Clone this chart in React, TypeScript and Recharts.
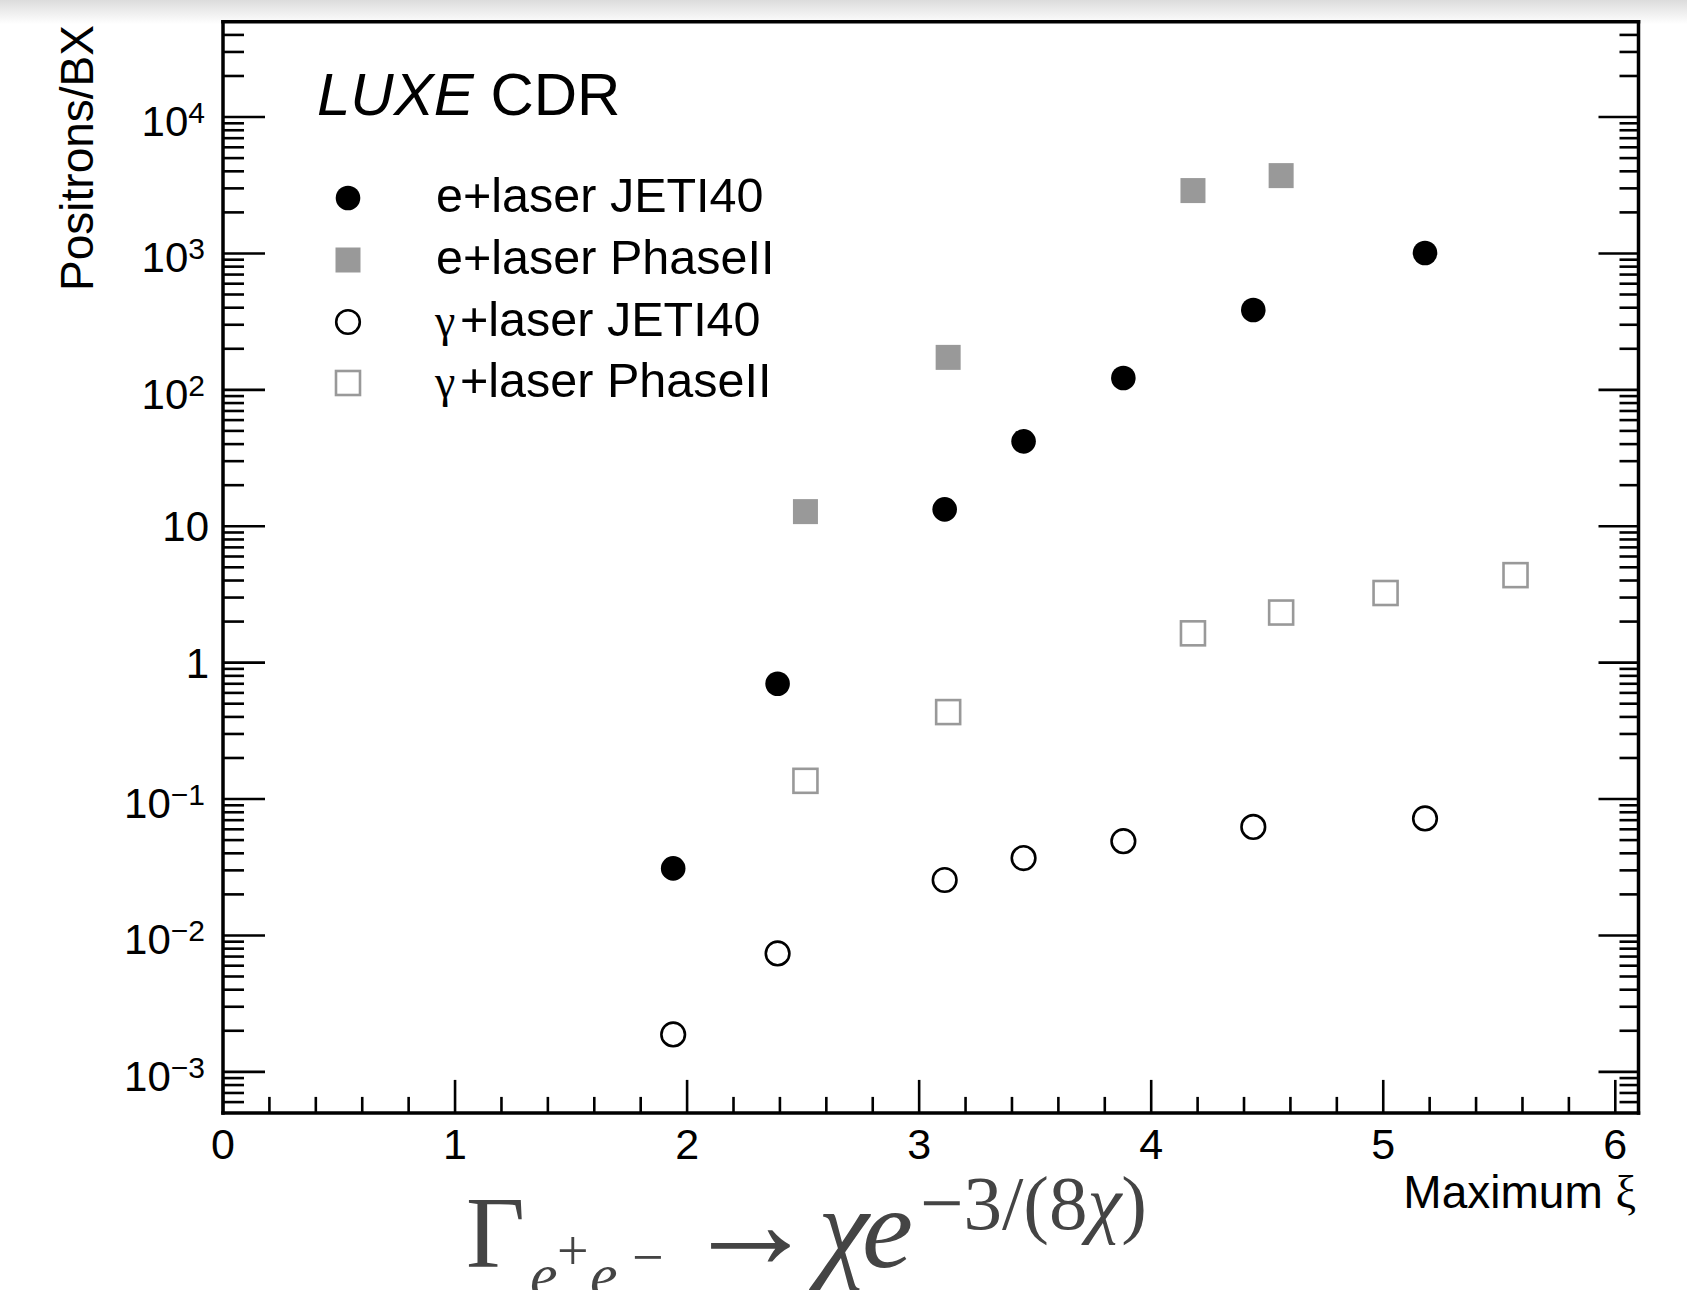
import React from 'react';
import { ScatterChart, Scatter, XAxis, YAxis, Legend } from 'recharts';

// series (x = maximum xi, y = positrons per bunch crossing)
const seriesNames = ['e+laser JETI40', 'e+laser PhaseII', 'γ+laser JETI40', 'γ+laser PhaseII'];

const jetiXi = [1.94, 2.39, 3.11, 3.45, 3.88, 4.44, 5.18];
const eJetiN = [0.031, 0.7, 13.3, 41.9, 122, 385, 1007];
const gJetiN = [0.00188, 0.00738, 0.0255, 0.0369, 0.0491, 0.0625, 0.0721];

const ePhaseXi = [2.51, 3.125, 4.18, 4.56];
const ePhaseN = [12.8, 173, 2890, 3720];

const gPhaseXi = [2.51, 3.125, 4.18, 4.56, 5.01, 5.57];
const gPhaseN = [0.136, 0.434, 1.64, 2.33, 3.24, 4.38];

const xMajorTicks = [0, 1, 2, 3, 4, 5, 6];
const yDecades = [-3, -2, -1, 0, 1, 2, 3, 4];

const FONT = '"Liberation Sans", Arial, Helvetica, sans-serif';
const SERIF = '"Liberation Serif", "Times New Roman", serif';
const GREY = '#999999';

const toRows = (xs: number[], ys: number[]) => xs.map((xi, i) => ({ xi, n: ys[i] }));

const eJeti = toRows(jetiXi, eJetiN);
const ePhase = toRows(ePhaseXi, ePhaseN);
const gJeti = toRows(jetiXi, gJetiN);
const gPhase = toRows(gPhaseXi, gPhaseN);

// minor ticks every 0.2 on x, 2..9 per decade on y
const xTicks: number[] = [];
for (let i = 0; i <= 30; i++) xTicks.push(Math.round(i * 2) / 10);

const yTicks: number[] = [6e-4, 7e-4, 8e-4, 9e-4];
yDecades.forEach((d) => {
  const base = Math.pow(10, d);
  yTicks.push(base);
  if (d < 4) for (let k = 2; k <= 9; k++) yTicks.push(k * base);
});
yTicks.push(2e4, 3e4, 4e4);

const isMajorX = (v: number) => xMajorTicks.some((m) => Math.abs(m - v) < 1e-6);
const isMajorY = (v: number) => {
  const l = Math.log10(v);
  return Math.abs(l - Math.round(l)) < 1e-6;
};

const BottomTick = (props: any) => {
  const { x, y, payload } = props;
  const major = isMajorX(payload.value);
  return (
    <g>
      <line x1={x} x2={x} y1={y} y2={y - (major ? 33 : 16)} stroke="#000" strokeWidth={2.6} />
      {major && (
        <text x={x} y={y + 46} textAnchor="middle" fontSize={43} fontFamily={FONT} fill="#000">
          {Math.round(payload.value)}
        </text>
      )}
    </g>
  );
};

const TopTick = (props: any) => {
  const { x, y, payload } = props;
  const major = isMajorX(payload.value);
  return <line x1={x} x2={x} y1={y} y2={y + (major ? 33 : 16)} stroke="#000" strokeWidth={2.6} />;
};

const LeftTick = (props: any) => {
  const { x, y, payload } = props;
  const v = payload.value;
  const major = isMajorY(v);
  const e = Math.round(Math.log10(v));
  const plain = e === 0 || e === 1;
  return (
    <g>
      <line x1={x} x2={x + (major ? 42 : 21)} y1={y} y2={y} stroke="#000" strokeWidth={2.6} />
      {major && (
        <text
          x={x - (plain ? 14 : 18)}
          y={y + (plain ? 15 : 19)}
          textAnchor="end"
          fontSize={42}
          fontFamily={FONT}
          fill="#000"
        >
          {e === 0 ? '1' : '10'}
          {!plain && (
            <tspan dy={-13} fontSize={30}>
              {e < 0 ? '\u2212' + -e : String(e)}
            </tspan>
          )}
        </text>
      )}
    </g>
  );
};

const RightTick = (props: any) => {
  const { x, y, payload } = props;
  const major = isMajorY(payload.value);
  return <line x1={x} x2={x - (major ? 40 : 19)} y1={y} y2={y} stroke="#000" strokeWidth={2.6} />;
};

const FilledCircle = (p: any) => <circle cx={p.cx} cy={p.cy} r={12.3} fill="#000" />;
const FilledSquare = (p: any) => (
  <rect x={p.cx - 12.5} y={p.cy - 12.5} width={25} height={25} fill={GREY} />
);
const OpenCircle = (p: any) => (
  <circle cx={p.cx} cy={p.cy} r={11.8} fill="none" stroke="#000" strokeWidth={2.6} />
);
const OpenSquare = (p: any) => (
  <rect x={p.cx - 12} y={p.cy - 12} width={24} height={24} fill="none" stroke={GREY} strokeWidth={2.6} />
);

const legendMarkers = [FilledCircle, FilledSquare, OpenCircle, OpenSquare];
const legendRows = [198, 260, 322, 383];

const LegendBox = (props: any) => {
  const items = props.payload && props.payload.length ? props.payload : seriesNames.map((v) => ({ value: v }));
  return (
    <svg width={800} height={420} style={{ display: 'block', overflow: 'visible' }}>
      {items.map((it: any, i: number) => {
        const Marker = legendMarkers[i];
        const y = legendRows[i];
        const name: string = it.value;
        const isGamma = name.startsWith('γ');
        return (
          <g key={name}>
            <Marker cx={348} cy={y} />
            {isGamma ? (
              <text y={y + 14} fontSize={48.5} fontFamily={FONT} fill="#000">
                <tspan x={435} fontFamily={SERIF} fontSize={46}>
                  γ
                </tspan>
                <tspan x={460}>{name.slice(1)}</tspan>
              </text>
            ) : (
              <text x={436} y={y + 14} fontSize={48.5} fontFamily={FONT} fill="#000">
                {name}
              </text>
            )}
          </g>
        );
      })}
    </svg>
  );
};

const YTitle = () => (
  <text
    x={93}
    y={25}
    transform="rotate(-90, 93, 25)"
    textAnchor="end"
    fontSize={46}
    fontFamily={FONT}
    fill="#000"
  >
    Positrons/BX
  </text>
);

const XTitle = () => (
  <text x={1636} y={1208} textAnchor="end" fontSize={46} fontFamily={FONT} fill="#000">
    Maximum <tspan fontFamily={SERIF}>ξ</tspan>
  </text>
);

const Formula = () => (
  <svg
    width={1687}
    height={1290}
    style={{ position: 'absolute', left: 0, top: 0, pointerEvents: 'none' }}
  >
    <text x={317} y={115} fontSize={60} fontFamily={FONT} fill="#000">
      <tspan fontStyle="italic">LUXE</tspan> CDR
    </text>
    <g fill="#444" fontFamily={SERIF}>
      <text x={466} y={1267} fontSize={102}>Γ</text>
      <text x={530} y={1296} fontSize={62} fontStyle="italic">e</text>
      <text x={557} y={1270} fontSize={56}>+</text>
      <text x={590} y={1296} fontSize={62} fontStyle="italic">e</text>
      <text x={632} y={1276} fontSize={56}>{'\u2212'}</text>
      <text x={684} y={1268} fontSize={133}>{'\u2192'}</text>
      <text x={818} y={1267} fontSize={115} fontStyle="italic">χ</text>
      <text x={862} y={1267} fontSize={115} fontStyle="italic">e</text>
      <text x={920} y={1229} fontSize={77}>
        {'\u22123/(8'}
        <tspan fontStyle="italic">χ</tspan>)
      </text>
    </g>
  </svg>
);

export default function App() {
  return (
    <div
      style={{
        position: 'absolute',
        left: 0,
        top: 0,
        width: 1687,
        height: 1290,
        background: '#fff',
        overflow: 'hidden',
      }}
    >
      <div
        style={{
          position: 'absolute',
          left: 0,
          top: 0,
          width: 1687,
          height: 24,
          background: 'linear-gradient(to bottom, #dcdcdc, rgba(255,255,255,0))',
        }}
      />
      <ScatterChart
        width={1687}
        height={1290}
        margin={{ top: 20.7, right: 47.5, bottom: 176.1, left: 222 }}
      >
        <XAxis
          xAxisId="b"
          type="number"
          dataKey="xi"
          domain={[0, 6.1]}
          allowDataOverflow
          ticks={xTicks}
          interval={0}
          tickSize={0}
          tickMargin={0}
          height={1}
          tick={<BottomTick />}
          tickLine={false}
          axisLine={{ stroke: '#000', strokeWidth: 3.5, strokeLinecap: 'square' }}
          label={<XTitle />}
        />
        <XAxis
          xAxisId="t"
          orientation="top"
          type="number"
          domain={[0, 6.1]}
          allowDataOverflow
          ticks={xTicks}
          interval={0}
          tickSize={0}
          tickMargin={0}
          height={1}
          tick={<TopTick />}
          tickLine={false}
          axisLine={{ stroke: '#000', strokeWidth: 3.5, strokeLinecap: 'square' }}
        />
        <YAxis
          yAxisId="l"
          type="number"
          dataKey="n"
          scale="log"
          domain={[5e-4, 5e4]}
          allowDataOverflow
          ticks={yTicks}
          interval={0}
          tickSize={0}
          tickMargin={0}
          width={1}
          tick={<LeftTick />}
          tickLine={false}
          axisLine={{ stroke: '#000', strokeWidth: 3.5, strokeLinecap: 'square' }}
          label={<YTitle />}
        />
        <YAxis
          yAxisId="r"
          orientation="right"
          type="number"
          scale="log"
          domain={[5e-4, 5e4]}
          allowDataOverflow
          ticks={yTicks}
          interval={0}
          tickSize={0}
          tickMargin={0}
          width={1}
          tick={<RightTick />}
          tickLine={false}
          axisLine={{ stroke: '#000', strokeWidth: 3.5, strokeLinecap: 'square' }}
        />
        <Legend
          layout="vertical"
          align="center"
          verticalAlign="middle"
          content={<LegendBox />}
          wrapperStyle={{ left: 0, top: 0, width: 800, height: 420 }}
        />
        <Scatter name={seriesNames[0]} data={eJeti} xAxisId="b" yAxisId="l" shape={FilledCircle} isAnimationActive={false} />
        <Scatter name={seriesNames[1]} data={ePhase} xAxisId="b" yAxisId="l" shape={FilledSquare} isAnimationActive={false} />
        <Scatter name={seriesNames[2]} data={gJeti} xAxisId="b" yAxisId="l" shape={OpenCircle} isAnimationActive={false} />
        <Scatter name={seriesNames[3]} data={gPhase} xAxisId="b" yAxisId="l" shape={OpenSquare} isAnimationActive={false} />
      </ScatterChart>
      <Formula />
    </div>
  );
}
